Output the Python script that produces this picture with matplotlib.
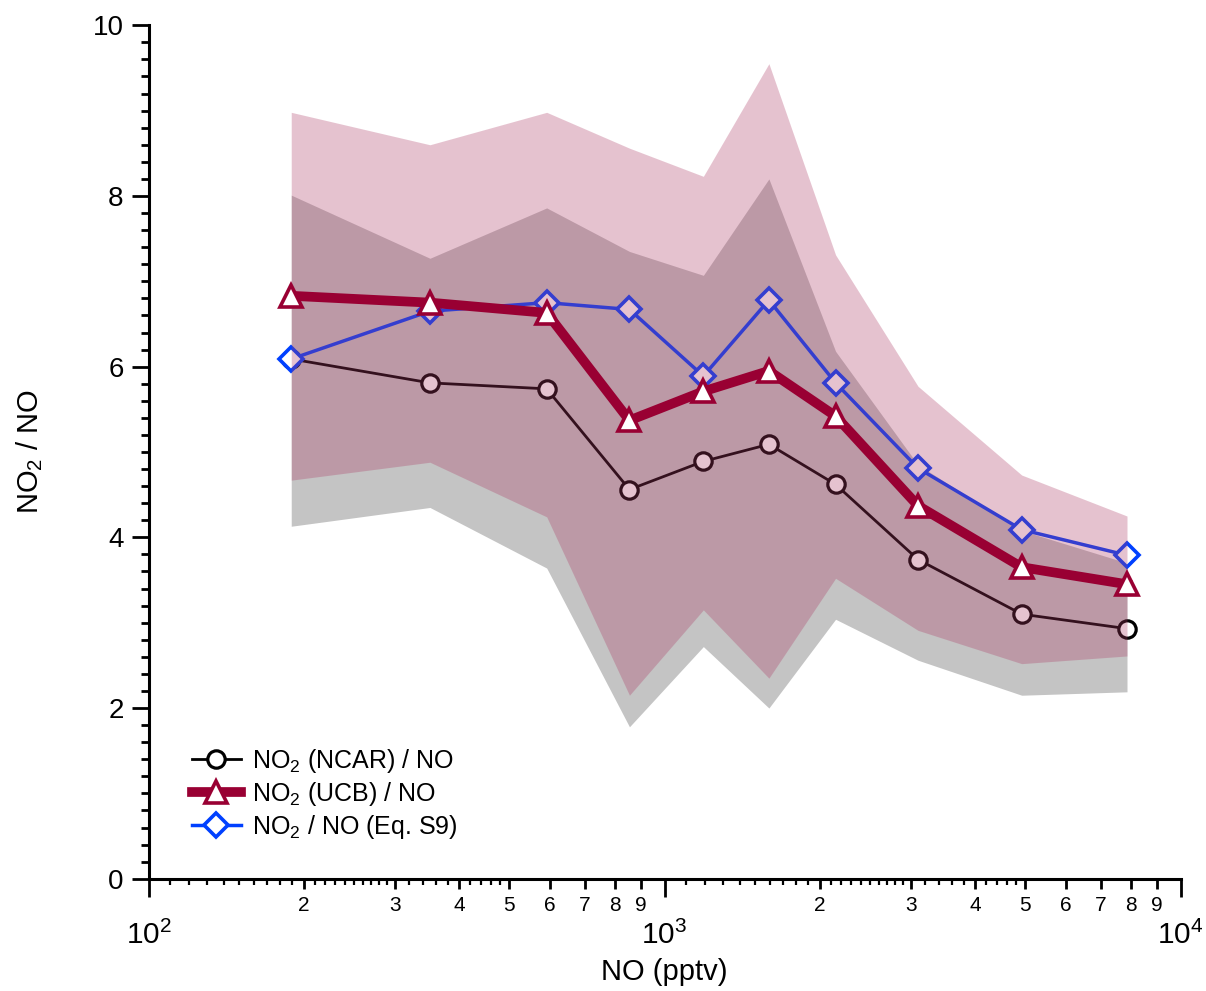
import math
import matplotlib
matplotlib.use("Agg")
import matplotlib.pyplot as plt
from matplotlib.ticker import FixedLocator, FuncFormatter, MultipleLocator, NullFormatter, NullLocator

plt.rcParams['font.family'] = ['Liberation Sans', 'DejaVu Sans']
plt.rcParams['mathtext.fontset'] = 'custom'
plt.rcParams['mathtext.rm'] = 'Liberation Sans'
plt.rcParams['mathtext.it'] = 'Liberation Sans'
plt.rcParams['mathtext.default'] = 'regular'

# NO bins (pptv)
no_pptv = [189, 351, 591, 855, 1189, 1593, 2145, 3099, 4922, 7874]

# ratios
ncar = [6.09, 5.81, 5.74, 4.56, 4.89, 5.09, 4.62, 3.74, 3.10, 2.93]
ucb = [6.83, 6.75, 6.63, 5.37, 5.71, 5.95, 5.42, 4.37, 3.65, 3.45]
eq_s9 = [6.09, 6.65, 6.75, 6.67, 5.89, 6.78, 5.81, 4.81, 4.09, 3.79]

# spread bands
ncar_lo = [4.13, 4.35, 3.64, 1.78, 2.72, 2.00, 3.04, 2.56, 2.15, 2.19]
ncar_hi = [8.01, 7.27, 7.86, 7.35, 7.07, 8.20, 6.18, 4.85, 4.08, 3.70]
ucb_lo = [4.67, 4.88, 4.24, 2.15, 3.15, 2.35, 3.52, 2.91, 2.52, 2.61]
ucb_hi = [8.98, 8.60, 8.98, 8.56, 8.23, 9.55, 7.31, 5.77, 4.73, 4.25]

c_ucb = '#990033'
c_blue = '#0040ff'

fig = plt.figure(figsize=(12.06, 9.91), dpi=100)
ax = fig.add_axes([0.1232, 0.1133, 0.8557, 0.8612])

ax.fill_between(no_pptv, ncar_lo, ncar_hi, color='#c4c4c4', lw=0, zorder=1)
ax.plot(no_pptv, ncar, color='black', lw=2, marker='o', ms=12.5, mfc='white',
        mec='black', mew=2.3, zorder=2, label='NO$_2$ (NCAR) / NO')
ax.plot(no_pptv, eq_s9, color=c_blue, lw=2.5, marker='D', ms=12.5, mfc='white',
        mec=c_blue, mew=2.6, zorder=2.5, label='NO$_2$ / NO (Eq. S9)')
ax.fill_between(no_pptv, ucb_lo, ucb_hi, color=(173/255, 58/255, 101/255),
                alpha=0.305, lw=0, zorder=3)
ax.plot(no_pptv, ucb, color=c_ucb, lw=7, marker='^', ms=15.5, mfc='white',
        mec=c_ucb, mew=2.6, zorder=4, label='NO$_2$ (UCB) / NO')

ax.set_xscale('log')
ax.set_xlim(100, 10000)
ax.set_ylim(0, 10)

for s in ['top', 'right']:
    ax.spines[s].set_visible(False)
for s in ['left', 'bottom']:
    ax.spines[s].set_linewidth(2.2)

# y axis
ax.yaxis.set_major_locator(MultipleLocator(2))
ax.yaxis.set_minor_locator(MultipleLocator(0.2))
ax.tick_params(axis='y', which='major', direction='out', length=12, width=2,
               labelsize=20, pad=6)
ax.tick_params(axis='y', which='minor', direction='out', length=6, width=2)

# x axis: digit ticks labelled, tiny ticks in between
digit_ticks = [d * m for d in (100, 1000) for m in range(2, 10)]
tiny_ticks = [d * m / 10 for d in (100, 1000)
              for m in list(range(11, 20)) + list(range(21, 30)) + [32, 34, 36, 38, 42, 44, 46, 48]]
ax.xaxis.set_major_locator(FixedLocator(digit_ticks))
ax.xaxis.set_major_formatter(FuncFormatter(
    lambda v, p: '%d' % round(v / 10 ** math.floor(math.log10(v) + 1e-9))))
ax.xaxis.set_minor_locator(FixedLocator(tiny_ticks))
ax.xaxis.set_minor_formatter(NullFormatter())
ax.tick_params(axis='x', which='major', direction='out', length=7.5, width=2,
               labelsize=15, pad=5)
ax.tick_params(axis='x', which='minor', direction='out', length=4, width=1.6)

# decades
sec = ax.secondary_xaxis('bottom')
sec.spines['bottom'].set_visible(False)
sec.xaxis.set_major_locator(FixedLocator([100, 1000, 10000]))
sec.xaxis.set_minor_locator(NullLocator())
sec.xaxis.set_major_formatter(FuncFormatter(
    lambda v, p: '$10^{%d}$' % round(math.log10(v))))
sec.tick_params(axis='x', which='major', direction='out', length=13, width=2,
                labelsize=21.5, pad=17)
sec.set_xlabel('NO (pptv)', fontsize=21, labelpad=6)

ax.set_ylabel('NO$_2$ / NO', fontsize=21, labelpad=34)

h, l = ax.get_legend_handles_labels()
order = [0, 2, 1]
leg = ax.legend([h[i] for i in order], [l[i] for i in order], loc='lower left',
                bbox_to_anchor=(0.042, 0.044), frameon=False, fontsize=18,
                borderpad=0, handlelength=1.95, handletextpad=0.45,
                labelspacing=0.2, borderaxespad=0)
leg.set_zorder(10)

fig.savefig('out.png', dpi=100)
